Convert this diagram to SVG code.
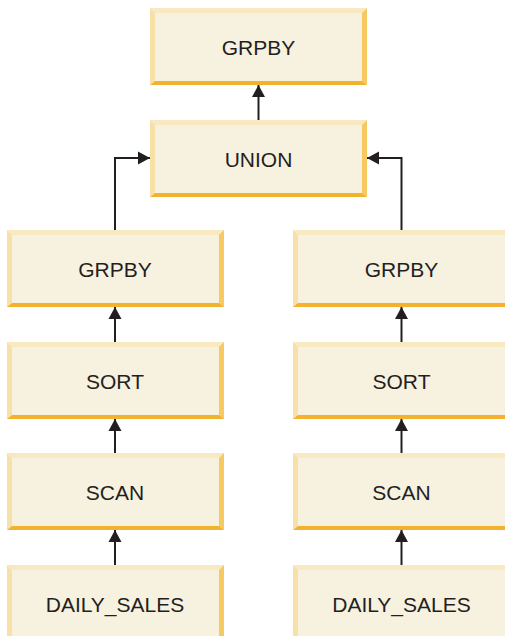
<svg xmlns="http://www.w3.org/2000/svg" xmlns:xlink="http://www.w3.org/1999/xlink" width="505" height="636" viewBox="0 0 505 636">
  <style>
    .lbl { font-family: "Liberation Sans", Arial, sans-serif; font-size: 21px; fill: #231f20; text-anchor: middle; }
    .conn { stroke: #231f20; stroke-width: 2; fill: none; }
  </style>
  <defs>
    <marker id="ah" markerUnits="userSpaceOnUse" markerWidth="13" markerHeight="14" refX="12" refY="7" orient="auto" viewBox="0 0 13 14">
      <path d="M0,0.5 L12,7 L0,13.5 Z" fill="#231f20"/>
    </marker>
    <g id="box">
      <rect x="0" y="0" width="217" height="77" fill="#f7f1e0"/>
      <polygon points="0,0 217,0 212,5 5,5" fill="#f9e9c3"/>
      <polygon points="0,0 5,5 5,73 0,77" fill="#f8e1a9"/>
      <polygon points="217,0 217,77 212,73 212,5" fill="#f6ca61"/>
      <polygon points="0,77 217,77 212,73 5,73" fill="#f2b22e"/>
    </g>
  </defs>
  <rect width="505" height="636" fill="#ffffff"/>

  <g id="connectors">
    <line class="conn" x1="258.5" y1="120" x2="258.5" y2="85" marker-end="url(#ah)"/>
    <polyline class="conn" points="115,230 115,158 150,158" marker-end="url(#ah)"/>
    <polyline class="conn" points="401.5,230 401.5,158 367,158" marker-end="url(#ah)"/>
    <line class="conn" x1="115" y1="342" x2="115" y2="307" marker-end="url(#ah)"/>
    <line class="conn" x1="115" y1="453" x2="115" y2="419" marker-end="url(#ah)"/>
    <line class="conn" x1="115" y1="565" x2="115" y2="530" marker-end="url(#ah)"/>
    <line class="conn" x1="401.5" y1="342" x2="401.5" y2="307" marker-end="url(#ah)"/>
    <line class="conn" x1="401.5" y1="453" x2="401.5" y2="419" marker-end="url(#ah)"/>
    <line class="conn" x1="401.5" y1="565" x2="401.5" y2="530" marker-end="url(#ah)"/>
  </g>

  <g id="grpby-top">
    <use xlink:href="#box" x="150" y="8"/>
    <text class="lbl" x="258.5" y="55">GRPBY</text>
  </g>
  <g id="union">
    <use xlink:href="#box" x="150" y="120"/>
    <text class="lbl" x="258.5" y="167">UNION</text>
  </g>

  <g id="grpby-left">
    <use xlink:href="#box" x="7" y="230"/>
    <text class="lbl" x="115" y="277">GRPBY</text>
  </g>
  <g id="sort-left">
    <use xlink:href="#box" x="7" y="342"/>
    <text class="lbl" x="115" y="389">SORT</text>
  </g>
  <g id="scan-left">
    <use xlink:href="#box" x="7" y="453"/>
    <text class="lbl" x="115" y="500">SCAN</text>
  </g>
  <g id="daily-sales-left">
    <use xlink:href="#box" x="7" y="565"/>
    <text class="lbl" x="115" y="612">DAILY_SALES</text>
  </g>

  <g id="grpby-right">
    <use xlink:href="#box" x="293" y="230"/>
    <text class="lbl" x="401.5" y="277">GRPBY</text>
  </g>
  <g id="sort-right">
    <use xlink:href="#box" x="293" y="342"/>
    <text class="lbl" x="401.5" y="389">SORT</text>
  </g>
  <g id="scan-right">
    <use xlink:href="#box" x="293" y="453"/>
    <text class="lbl" x="401.5" y="500">SCAN</text>
  </g>
  <g id="daily-sales-right">
    <use xlink:href="#box" x="293" y="565"/>
    <text class="lbl" x="401.5" y="612">DAILY_SALES</text>
  </g>
</svg>
